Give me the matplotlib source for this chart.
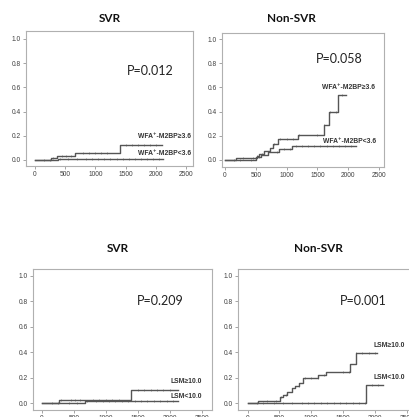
import numpy as np
import matplotlib.pyplot as plt

# cumulative incidence curves: event times and step values
svr_wfa_hi_t = [0, 265, 370, 660, 1400, 2100]
svr_wfa_hi_y = [0, 0.02, 0.03, 0.06, 0.12, 0.12]
svr_wfa_lo_t = [0, 380, 2120]
svr_wfa_lo_y = [0, 0.006, 0.006]

non_wfa_hi_t = [0, 175, 515, 545, 625, 730, 775, 855, 1190, 1600, 1695, 1830, 1960]
non_wfa_hi_y = [0, 0.02, 0.033, 0.047, 0.074, 0.10, 0.13, 0.17, 0.21, 0.29, 0.40, 0.54, 0.54]
non_wfa_lo_t = [0, 500, 590, 700, 870, 1080, 2120]
non_wfa_lo_y = [0, 0.025, 0.045, 0.07, 0.09, 0.113, 0.113]

svr_lsm_hi_t = [0, 260, 1400, 2130]
svr_lsm_hi_y = [0, 0.025, 0.10, 0.10]
svr_lsm_lo_t = [0, 670, 2130]
svr_lsm_lo_y = [0, 0.015, 0.015]

non_lsm_hi_t = [0, 170, 510, 560, 615, 700, 745, 805, 875, 1110, 1225, 1605, 1695, 2025]
non_lsm_hi_y = [0, 0.015, 0.046, 0.065, 0.09, 0.116, 0.137, 0.16, 0.194, 0.222, 0.248, 0.305, 0.39, 0.39]
non_lsm_lo_t = [0, 1855, 2130]
non_lsm_lo_y = [0, 0.142, 0.142]

# censored observations (tick marks)
cens_a = [300, 450, 520, 600, 800, 900, 1000, 1100, 1200, 1500, 1600, 1700, 1800, 1900, 2000]
cens_b = [150, 250, 420, 550, 700, 850, 950, 1050, 1150, 1250, 1350, 1450, 1550, 1650, 1750, 1850, 1950, 2050]

titles = ["SVR", "Non-SVR", "SVR", "Non-SVR"]
pvalues = ["P=0.012", "P=0.058", "P=0.209", "P=0.001"]
hi_labels = ["WFA\u207a-M2BP\u22653.6", "WFA\u207a-M2BP\u22653.6", "LSM\u226510.0", "LSM\u226510.0"]
lo_labels = ["WFA\u207a-M2BP<3.6", "WFA\u207a-M2BP<3.6", "LSM<10.0", "LSM<10.0"]

W, H = 409, 417
fig = plt.figure(figsize=(W / 100, H / 100), dpi=100)

# pixel boxes: left, top, width, height
boxes = [(26, 31, 167, 135), (222, 33, 162, 134), (33, 269, 179, 141), (238, 269, 179, 141)]
xlims = [(-149, 2616), (-49, 2581), (-140, 2660), (-150, 2660)]
ylims = [(-0.05, 1.066), (-0.058, 1.05), (-0.055, 1.055), (-0.055, 1.055)]
title_pos = [(110, 19), (291, 19), (118, 248), (318, 248)]
p_pos = [(0.743, 0.704), (0.722, 0.806), (0.709, 0.773), (0.698, 0.773)]
hi_pos = [(0.83, 0.222), (0.778, 0.597), (0.855, 0.199), (0.844, 0.454)]
lo_pos = [(0.83, 0.089), (0.79, 0.187), (0.855, 0.099), (0.844, 0.227)]

curves = [
    (svr_wfa_hi_t, svr_wfa_hi_y, svr_wfa_lo_t, svr_wfa_lo_y),
    (non_wfa_hi_t, non_wfa_hi_y, non_wfa_lo_t, non_wfa_lo_y),
    (svr_lsm_hi_t, svr_lsm_hi_y, svr_lsm_lo_t, svr_lsm_lo_y),
    (non_lsm_hi_t, non_lsm_hi_y, non_lsm_lo_t, non_lsm_lo_y),
]

line_c = "#555555"
spine_c = "#b0b0b0"
lab_font = ["Liberation Sans", "DejaVu Sans"]


def step_at(t, y, x):
    idx = np.searchsorted(t, x, side="right") - 1
    return np.asarray(y)[idx]


for i, (l, t, w, h) in enumerate(boxes):
    ax = fig.add_axes([l / W, 1 - (t + h) / H, w / W, h / H])
    ht, hy, lt, ly = curves[i]
    for tt, yy, cens in ((ht, hy, cens_a), (lt, ly, cens_b)):
        ax.step(tt, yy, where="post", color=line_c, lw=1.0)
        c = np.array([x for x in cens if x < tt[-1]])
        ax.plot(c, step_at(tt, yy, c), "|", color=line_c, ms=2, mew=0.4)
    ax.set_xlim(*xlims[i])
    ax.set_ylim(*ylims[i])
    ax.set_xticks(range(0, 2501, 500))
    ax.set_yticks(np.arange(0, 1.01, 0.2))
    ax.set_yticklabels(["%.1f" % v for v in np.arange(0, 1.01, 0.2)])
    ax.tick_params(length=2, width=0.5, color="#808080", labelsize=4.8,
                   labelcolor="#404040", pad=1.5)
    for lbl in ax.get_xticklabels() + ax.get_yticklabels():
        lbl.set_family(lab_font)
    for s in ax.spines.values():
        s.set_color(spine_c)
        s.set_linewidth(0.8)
    ax.text(*p_pos[i], pvalues[i], transform=ax.transAxes, ha="center", va="center",
            fontsize=9, family="Lato", color="#222222")
    ax.text(*hi_pos[i], hi_labels[i], transform=ax.transAxes, ha="center", va="center",
            fontsize=4.9, fontweight="bold", family=lab_font, color="#333333")
    ax.text(*lo_pos[i], lo_labels[i], transform=ax.transAxes, ha="center", va="center",
            fontsize=4.9, fontweight="bold", family=lab_font, color="#333333")
    fig.text(title_pos[i][0] / W, 1 - title_pos[i][1] / H, titles[i], ha="center",
             va="center", fontsize=8.5, fontweight="bold", family="Lato", color="#111111")

fig.savefig("out.png", dpi=100, facecolor="white")
